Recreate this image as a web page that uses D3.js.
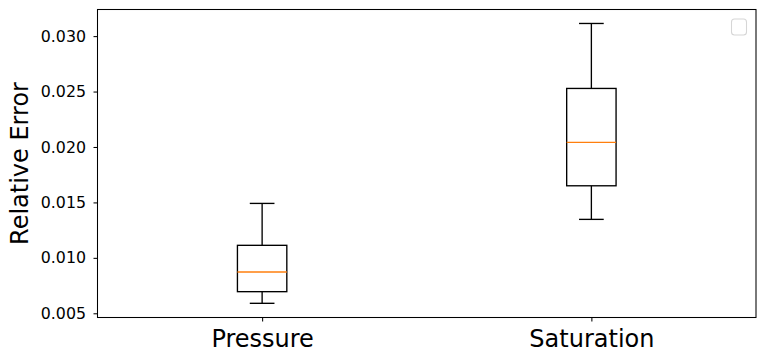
<!DOCTYPE html>
<html lang="en">
<head>
<meta charset="utf-8">
<title>Relative Error box plot</title>
<script src="https://d3js.org/d3.v7.min.js"></script>
<style type="text/css">
  body { margin: 0; background: #fff; }
  svg text { font-family: "DejaVu Sans", sans-serif; fill: #000; }
  .tick line { stroke: #000; }
  .domain { display: none; }
</style>
</head>
<body>
<div id="chart"></div>
<script>
// box plot stats
var categories = ["Pressure", "Saturation"];
var whiskerLow  = [0.00590, 0.01347];
var q1          = [0.00695, 0.01650];
var median      = [0.00872, 0.02041];
var q3          = [0.01113, 0.02528];
var whiskerHigh = [0.01491, 0.03114];
var yTicks = [0.005, 0.010, 0.015, 0.020, 0.025, 0.030];

var width = 765, height = 361;
var margin = {top: 9.5, right: 9, bottom: 43.5, left: 97.5};
var w = width - margin.left - margin.right;
var h = height - margin.top - margin.bottom;

var svg = d3.select("#chart").append("svg")
    .attr("width", width)
    .attr("height", height);

var g = svg.append("g")
    .attr("transform", "translate(" + margin.left + "," + margin.top + ")");

// positions 1 and 2 on a 0.5..2.5 range, like matplotlib
var x = d3.scaleLinear().domain([0.5, 2.5]).range([0, w]);
var y = d3.scaleLinear().domain([0.00462, 0.0324]).range([h, 0]);

var boxW = x(0.65) - x(0.5);
var capW = boxW / 2;

var yAxis = g.append("g")
    .call(d3.axisLeft(y).tickValues(yTicks).tickFormat(d3.format(".3f")).tickSize(4).tickPadding(7.5));
yAxis.attr("font-family", null);
yAxis.selectAll("text").style("font-size", "15.8px");
yAxis.selectAll("line").attr("stroke-width", 1.05);

var xAxis = g.append("g")
    .attr("transform", "translate(0," + h + ")")
    .call(d3.axisBottom(x).tickValues([1, 2]).tickFormat(function(d) { return categories[d - 1]; }).tickSize(4).tickPadding(8));
xAxis.attr("font-family", null);
xAxis.selectAll("text").style("font-size", "24px");
xAxis.selectAll("line").attr("stroke-width", 1.05);

var data = categories.map(function(c, i) {
  return {pos: i + 1, lo: whiskerLow[i], q1: q1[i], med: median[i], q3: q3[i], hi: whiskerHigh[i]};
});

var box = g.selectAll(".box")
    .data(data)
  .enter().append("g")
    .attr("class", "box");

// whiskers
box.append("line")
    .attr("x1", function(d) { return x(d.pos); })
    .attr("x2", function(d) { return x(d.pos); })
    .attr("y1", function(d) { return y(d.q3); })
    .attr("y2", function(d) { return y(d.hi); })
    .attr("stroke", "#000").attr("stroke-width", 1.35);
box.append("line")
    .attr("x1", function(d) { return x(d.pos); })
    .attr("x2", function(d) { return x(d.pos); })
    .attr("y1", function(d) { return y(d.q1); })
    .attr("y2", function(d) { return y(d.lo); })
    .attr("stroke", "#000").attr("stroke-width", 1.35);

// caps
box.append("line")
    .attr("x1", function(d) { return x(d.pos) - capW / 2; })
    .attr("x2", function(d) { return x(d.pos) + capW / 2; })
    .attr("y1", function(d) { return y(d.hi); })
    .attr("y2", function(d) { return y(d.hi); })
    .attr("stroke", "#000").attr("stroke-width", 1.35);
box.append("line")
    .attr("x1", function(d) { return x(d.pos) - capW / 2; })
    .attr("x2", function(d) { return x(d.pos) + capW / 2; })
    .attr("y1", function(d) { return y(d.lo); })
    .attr("y2", function(d) { return y(d.lo); })
    .attr("stroke", "#000").attr("stroke-width", 1.35);

// box
box.append("rect")
    .attr("x", function(d) { return x(d.pos) - boxW / 2; })
    .attr("y", function(d) { return y(d.q3); })
    .attr("width", boxW)
    .attr("height", function(d) { return y(d.q1) - y(d.q3); })
    .attr("fill", "none")
    .attr("stroke", "#000").attr("stroke-width", 1.35);

// median
box.append("line")
    .attr("x1", function(d) { return x(d.pos) - boxW / 2; })
    .attr("x2", function(d) { return x(d.pos) + boxW / 2; })
    .attr("y1", function(d) { return y(d.med); })
    .attr("y2", function(d) { return y(d.med); })
    .attr("stroke", "#ff7f0e").attr("stroke-width", 1.35);

// frame
g.append("rect")
    .attr("width", w).attr("height", h)
    .attr("fill", "none")
    .attr("stroke", "#000").attr("stroke-width", 1.05);

// empty legend box
g.append("rect")
    .attr("x", w - 24.5).attr("y", 9.5)
    .attr("width", 15).attr("height", 16)
    .attr("rx", 3)
    .attr("fill", "#fff").attr("fill-opacity", 0.8)
    .attr("stroke", "#d6d6d6").attr("stroke-width", 1.05);

// y label
svg.append("text")
    .attr("transform", "translate(28," + (margin.top + h / 2) + ") rotate(-90)")
    .attr("text-anchor", "middle")
    .style("font-size", "24px")
    .text("Relative Error");
</script>
</body>
</html>
